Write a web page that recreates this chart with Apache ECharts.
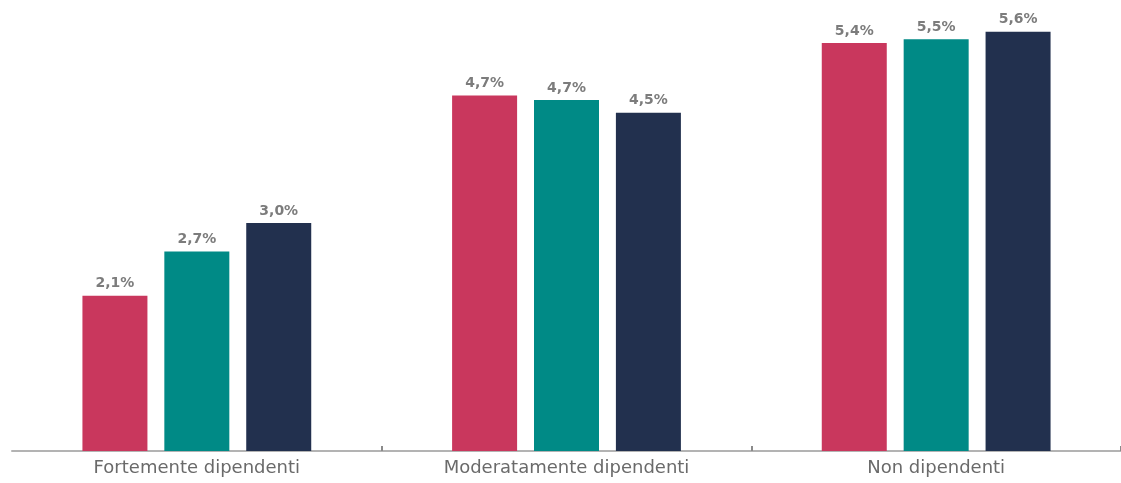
<!DOCTYPE html>
<html>
<head>
<meta charset="utf-8">
<script src="https://cdn.jsdelivr.net/npm/echarts@6/dist/echarts.min.js"></script>
<style>
html,body{margin:0;padding:0;background:#fff;}
#chart{width:1121px;height:483px;}
</style>
</head>
<body>
<div id="chart"></div>
<script>
var categories = ['Fortemente dipendenti', 'Moderatamente dipendenti', 'Non dipendenti'];
var seriesA = [2.07, 4.74, 5.44];
var seriesB = [2.66, 4.68, 5.49];
var seriesC = [3.04, 4.51, 5.59];
var seriesNames = ['Serie 1', 'Serie 2', 'Serie 3'];
var colors = ['#c9375d', '#008a86', '#22304e'];

var chart = echarts.init(document.getElementById('chart'), null, {renderer: 'canvas'});
function fmt(p) { return (Math.round(p.value * 10) / 10).toFixed(1).replace('.', ',') + '%'; }
var label = {
  show: true, position: 'top', distance: 5, formatter: fmt,
  color: '#7c7c7c', fontFamily: 'DejaVu Sans', fontWeight: 'bold', fontSize: 14
};
var all = [seriesA, seriesB, seriesC];
chart.setOption({
  animation: false,
  backgroundColor: '#ffffff',
  grid: {left: 12, right: -2, top: 1, bottom: 32, containLabel: false},
  xAxis: {
    type: 'category', data: categories,
    axisLine: {lineStyle: {color: '#b3b3b3', width: 2}},
    axisTick: {show: true, inside: true, length: 5, lineStyle: {color: '#8a8a8a', width: 2},
      interval: function (index) { return index > 0 && index < categories.length; }},
    axisLabel: {color: '#6a6a6a', fontFamily: 'DejaVu Sans', fontSize: 18, margin: 8}
  },
  yAxis: {type: 'value', min: 0, max: 6, show: false, splitLine: {show: false}},
  series: all.map(function (d, i) {
    return {
      name: seriesNames[i], type: 'bar', data: d, barWidth: 65, barGap: '26%',
      itemStyle: {color: colors[i]}, label: label
    };
  })
});
</script>
</body>
</html>
